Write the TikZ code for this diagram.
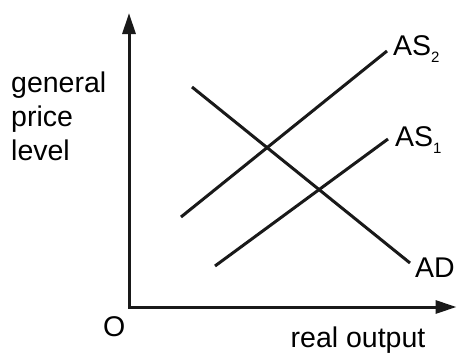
\documentclass[tikz,border=0pt]{standalone}
\usepackage{fontspec}
\setmainfont{Liberation Sans}
\usetikzlibrary{arrows.meta}
\begin{document}
\begin{tikzpicture}[x=1pt,y=-1pt,
  lbl/.style={anchor=base west,inner sep=0pt,font=\fontsize{28.5}{34}\selectfont},
  curve/.style={line width=3pt,black!90},
  axis/.style={line width=3pt,black!90,{Triangle[length=21pt,width=13pt]}-{Triangle[length=21pt,width=13pt]}}]
\newcommand{\subsc}[1]{\raisebox{-7.5pt}{\fontsize{15}{15}\selectfont #1}}
\useasboundingbox (0,0) rectangle (457,354);
\coordinate (ytop) at (129,13);
\coordinate (O) at (129,307);
\coordinate (xend) at (456.5,307);
\draw[axis] (ytop) -- (O) -- (xend);
% curves
\coordinate (ad1) at (192,87);
\coordinate (ad2) at (410,263);
\coordinate (as2a) at (181,217);
\coordinate (as2b) at (387,51);
\coordinate (as1a) at (215,266);
\coordinate (as1b) at (388,139);
\draw[curve] (ad1) -- (ad2);
\draw[curve] (as2a) -- (as2b);
\draw[curve] (as1a) -- (as1b);
% labels
\node[lbl] (gen) at (11,92) {general};
\node[lbl] (pri) at (11,126.5) {price};
\node[lbl] (lev) at (11,160.5) {level};
\node[lbl] (o) at (103,336) {O};
\node[lbl] (ro) at (290.5,347.5) {real output};
\node[lbl] (as2) at (393,55) {AS\subsc{2}};
\node[lbl] (as1) at (395,146) {AS\subsc{1}};
\node[lbl] (ad) at (415,277) {AD};
\end{tikzpicture}
\end{document}
